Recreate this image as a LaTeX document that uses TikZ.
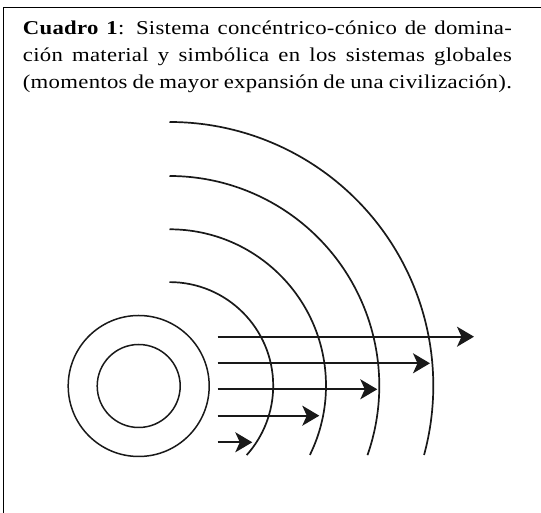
\documentclass[tikz,border=0pt]{standalone}
\usepackage{fontspec}
\setmainfont{Liberation Serif}[FakeStretch=1.16,LetterSpace=1.5]
\usetikzlibrary{arrows.meta}
\begin{document}
\begin{tikzpicture}[x=1pt,y=1pt,
  frameline/.style={line width=1.1pt,black},
  ringline/.style={line width=1.5pt,draw=black!90},
  wave/.style={line width=1.7pt,draw=black!90},
  push/.style={line width=1.8pt,draw=black!90,-{Stealth[length=17pt,width=20pt,inset=4.5pt]}}]
\useasboundingbox (0,0) rectangle (541,513);
% frame (top and left edges)
\coordinate (fb) at (3.3,0);
\coordinate (fc) at (3.3,505.3);
\coordinate (fr) at (541,505.3);
\draw[frameline] (fb) -- (fc) -- (fr);
% caption
\node[anchor=north west,inner sep=0pt,text width=489pt,align=justify,
  font=\fontsize{19.6}{26.7}\selectfont] (title) at (22.7,492)
  {\textbf{Cuadro 1}: Sistema concéntrico-cónico de domina-\linebreak
   ción material y simbólica en los sistemas globales\linebreak
   (momentos de mayor expansión de una civilización).\par};
% concentric circles
\coordinate (core) at (138.7,127);
\draw[ringline] (core) circle[radius=70.5];
\draw[ringline] (core) circle[radius=41.5];
% arcs
\coordinate (wc) at (169.5,127.2);
\foreach \r/\e [count=\i] in {103.7/-41.9,156.5/-26.2,209.8/-19.3,263.8/-15.2}{
  \draw[wave] (wc) ++(90:\r) arc[start angle=90,end angle=\e,radius=\r];
}
% arrows
\foreach \yy/\xt [count=\k] in {176.3/474,149.7/430,123.7/377.3,97.3/319.3,70.7/252.3}{
  \coordinate (s\k) at (217.7,\yy);
  \coordinate (t\k) at (\xt,\yy);
  \draw[push] (s\k) -- (t\k);
}
\end{tikzpicture}
\end{document}
